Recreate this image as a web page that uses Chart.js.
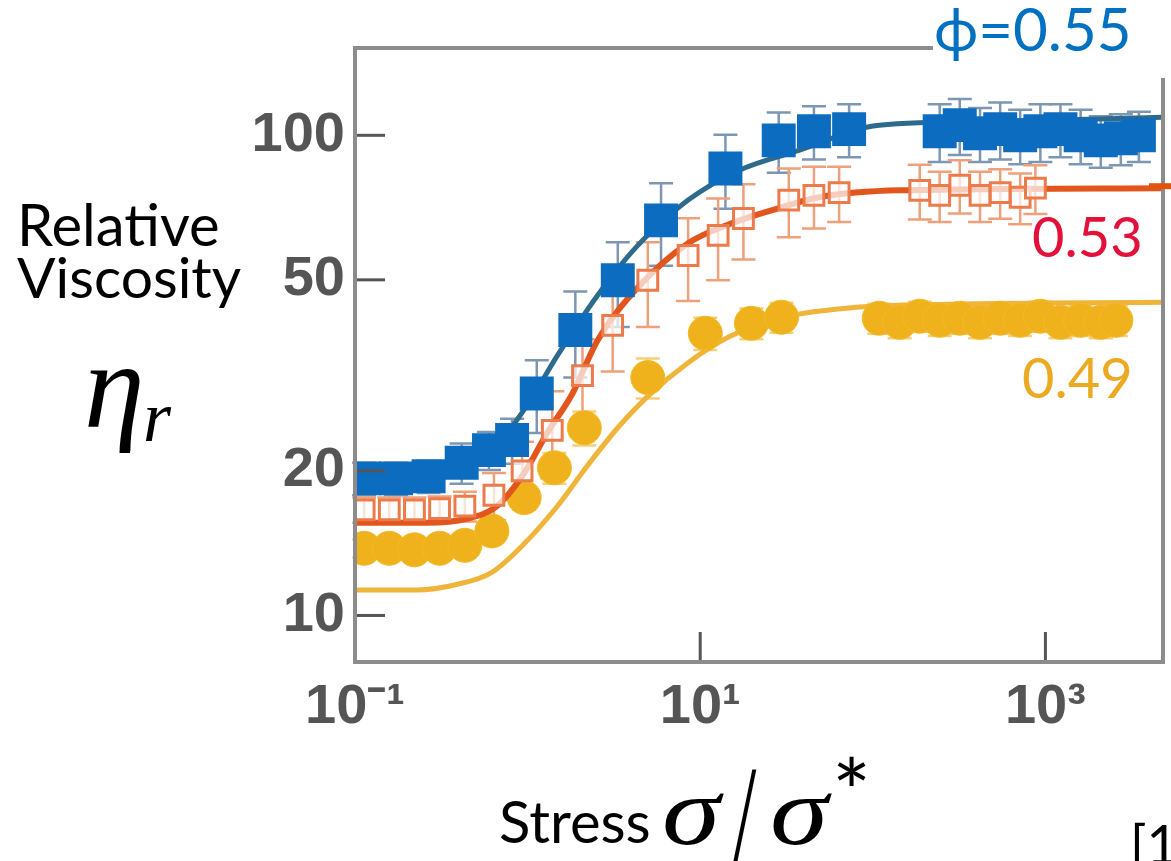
<!DOCTYPE html>
<html>
<head>
<meta charset="utf-8">
<script src="https://cdn.jsdelivr.net/npm/chart.js@4.4.1/dist/chart.umd.min.js"></script>
<style>
  html, body { margin: 0; padding: 0; background: #fff; }
  #wrap { position: relative; width: 1171px; height: 861px; overflow: hidden; }
  #myChart { position: absolute; left: 0; top: 0; }
  .txt { position: absolute; white-space: nowrap; line-height: 1; font-family: Lato, "Open Sans", sans-serif; }
  .math { position: absolute; white-space: nowrap; line-height: 1; font-family: "Liberation Serif", "DejaVu Serif", serif; font-style: italic; transform-origin: left top; }
</style>
</head>
<body>
<div id="wrap">
  <!-- canvas a bit wider than the window: Chart.js keeps ~25px on the right, the overflow is clipped -->
  <canvas id="myChart" width="1187" height="861"></canvas>

  <div class="txt" style="left:17px; top:195px; font-size:58px; color:#000;">Relative</div>
  <div class="txt" style="left:17px; top:248px; font-size:57px; color:#000;">Viscosity</div>
  <div class="math" style="left:84px; top:325px; font-size:122px; color:#000;">η</div>
  <div class="math" style="left:143px; top:381px; font-size:72px; color:#000;">r</div>

  <div class="txt" style="left:499px; top:792px; font-size:58px; color:#000;">Stress</div>
  <div class="math" style="left:662px; top:762px; font-size:98px; transform:scaleX(1.2); color:#000;">σ</div>
  <div class="math" style="left:733px; top:745px; font-size:140px; font-style:normal; transform:scaleX(0.6); color:#000;">/</div>
  <div class="math" style="left:770px; top:762px; font-size:98px; transform:scaleX(1.2); color:#000;">σ</div>
  <div class="txt" style="left:832px; top:744px; font-size:92px; color:#000;">*</div>

  <div class="txt" style="left:1130px; top:817px; font-size:54px; color:#000;">[1</div>

  <div class="txt" style="left:933px; top:0px; width:238px; height:78px; background:#fff;"></div>
  <div class="txt" style="left:934px; top:-2px; font-size:60px; color:#0070C0;">ϕ=0.55</div>
  <div class="txt" style="left:1032px; top:208px; font-size:56px; color:#E3103A;">0.53</div>
  <div class="txt" style="left:1022px; top:349px; font-size:56px; color:#EBAA22;">0.49</div>
</div>

<script>
// tick values / labels
const xTicks = [0.1, 10, 1000];
const xTickLabels = ['10⁻¹', '10¹', '10³'];
const yTicks = [10, 20, 50, 100];
const yTickLabels = ['10', '20', '50', '100'];

// phi = 0.55 (blue squares)
const blueX = [0.113, 0.173, 0.267, 0.415, 0.597, 0.813, 1.13, 1.89, 3.33, 5.93, 14.0, 28.5, 45.6, 72.9, 244, 319, 418, 547, 714, 935, 1222, 1600, 2093, 2735, 3480];
const blueY = [19.3, 19.3, 19.5, 20.8, 22.1, 23.2, 29.0, 39.3, 49.9, 66.5, 85.3, 97.6, 102, 103, 102, 105, 101, 103, 100, 102, 103, 100, 97.6, 98.6, 100];
const blueErr = [1.5, 1.5, 1.5, 2, 2, 2.5, 5, 8, 10, 13, 15, 14, 13, 13, 14, 14, 13, 14, 13, 14, 13, 13, 12, 12, 12];
const blueFitX = [0.1, 0.259, 0.444, 0.664, 0.993, 1.49, 2.54, 4.35, 8.51, 16.7, 37.3, 109, 547, 4810];
const blueFitY = [18.9, 19.3, 20.4, 22.6, 27.4, 34.8, 46.4, 59.0, 73.3, 84.5, 93.0, 105, 107, 109];

// phi = 0.53 (open orange markers)
const orangeX = [0.113, 0.158, 0.221, 0.309, 0.433, 0.638, 0.929, 1.39, 2.08, 3.11, 4.97, 8.51, 12.7, 17.8, 32.6, 45.6, 63.8, 187, 244, 319, 418, 547, 714, 875];
const orangeY = [16.6, 16.6, 16.6, 16.7, 16.9, 17.8, 20.0, 24.3, 31.6, 40.2, 49.9, 56.2, 61.9, 67.1, 73.3, 75.0, 76.0, 76.8, 75.0, 78.7, 75.0, 76.0, 74.3, 77.6];
const orangeErr = [1, 1, 1, 1, 1.2, 2, 3, 5, 6, 8, 10, 11, 12, 12, 12, 11, 10, 10, 9, 10, 9, 9, 9, 9];
const orangeFitX = [0.1, 0.259, 0.444, 0.664, 0.929, 1.30, 1.82, 2.54, 4.35, 8.51, 15.2, 29.6, 48.8, 143, 4810];
const orangeFitY = [15.6, 15.6, 15.9, 16.9, 19.5, 24.0, 29.0, 37.4, 48.2, 59.6, 65.6, 70.8, 74.3, 76.8, 77.6];

// phi = 0.49 (yellow circles)
const yellowX = [0.113, 0.158, 0.221, 0.309, 0.433, 0.621, 0.955, 1.43, 2.13, 4.97, 10.7, 19.8, 29.6, 109, 143, 187, 244, 319, 418, 547, 714, 935, 1222, 1600, 2093, 2560];
const yellowY = [13.8, 13.8, 13.7, 13.8, 14.0, 15.0, 17.6, 20.3, 24.6, 31.3, 38.7, 40.6, 41.8, 41.6, 40.8, 42.0, 41.2, 41.6, 40.8, 41.6, 41.2, 42.0, 40.8, 41.2, 40.8, 41.2];
const yellowErr = [0.6, 0.6, 0.6, 0.6, 0.7, 0.8, 1, 1.5, 2, 3, 3, 3, 3, 3, 3, 3, 3, 3, 3, 3, 3, 3, 3, 3, 3, 3];
const yellowFitX = [0.1, 0.227, 0.388, 0.621, 0.955, 1.49, 2.22, 3.33, 4.97, 8.51, 14.6, 28.5, 72.9, 279, 4810];
const yellowFitY = [11.3, 11.3, 11.6, 12.3, 14.1, 16.9, 20.5, 24.6, 28.6, 33.6, 38.0, 41.6, 43.7, 44.5, 44.9];

const toPts = (xs, ys) => xs.map((x, i) => ({ x: x, y: ys[i] }));

// error bars, inward ticks, frame
const extras = {
  id: 'extras',
  beforeDatasetsDraw(chart) {
    const c = chart.ctx, xs = chart.scales.x, ys = chart.scales.y;
    chart.data.datasets.forEach(ds => {
      if (!ds.errs) return;
      c.save();
      c.strokeStyle = ds.errColor;
      c.lineWidth = 2.5;
      ds.data.forEach((p, i) => {
        const px = xs.getPixelForValue(p.x);
        const top = ys.getPixelForValue(p.y + ds.errs[i]);
        const bot = ys.getPixelForValue(p.y - ds.errs[i]);
        c.beginPath();
        c.moveTo(px, top); c.lineTo(px, bot);
        c.moveTo(px - 12, top); c.lineTo(px + 12, top);
        c.moveTo(px - 12, bot); c.lineTo(px + 12, bot);
        c.stroke();
      });
      c.restore();
    });
  },
  afterDatasetsDraw(chart) {
    const c = chart.ctx, a = chart.chartArea, xs = chart.scales.x, ys = chart.scales.y;
    c.save();
    c.strokeStyle = '#555';
    c.lineWidth = 3;
    yTicks.forEach(v => {
      const py = ys.getPixelForValue(v);
      c.beginPath(); c.moveTo(a.left, py); c.lineTo(a.left + 30, py); c.stroke();
    });
    xTicks.forEach(v => {
      const px = xs.getPixelForValue(v);
      c.beginPath(); c.moveTo(px, a.bottom); c.lineTo(px, a.bottom - 30); c.stroke();
    });
    c.strokeStyle = '#8c8c8c';
    c.lineWidth = 4;
    c.strokeRect(a.left, a.top, a.right - a.left, a.bottom - a.top);
    // little orange dash past the right edge
    const oy = ys.getPixelForValue(orangeFitY[orangeFitY.length - 1]);
    c.strokeStyle = '#E0540E';
    c.lineWidth = 6;
    c.beginPath(); c.moveTo(a.right - 14, oy - 2); c.lineTo(a.right + 12, oy - 2); c.stroke();
    c.restore();
  }
};

const tickFont = { family: '"Liberation Sans", Arial, sans-serif', size: 56, weight: 'bold' };

new Chart(document.getElementById('myChart'), {
  type: 'scatter',
  data: {
    datasets: [
      {
        data: toPts(blueX, blueY), errs: blueErr, errColor: '#7d97b3',
        pointStyle: 'rect', pointRadius: 24, backgroundColor: '#0b6cc0', borderColor: '#0b6cc0', borderWidth: 0,
        showLine: false
      },
      {
        data: toPts(blueFitX, blueFitY), showLine: true, pointRadius: 0,
        borderColor: '#2d6a8c', borderWidth: 5, cubicInterpolationMode: 'monotone'
      },
      {
        data: toPts(orangeX, orangeY), errs: orangeErr, errColor: '#eea07a',
        pointStyle: 'rect', pointRadius: 14, backgroundColor: 'rgba(255,255,255,0.7)', borderColor: '#ec7a4a', borderWidth: 3,
        showLine: false
      },
      {
        data: toPts(orangeFitX, orangeFitY), showLine: true, pointRadius: 0,
        borderColor: '#e2561e', borderWidth: 6, cubicInterpolationMode: 'monotone'
      },
      {
        data: toPts(yellowX, yellowY), errs: yellowErr, errColor: '#f3cf7a',
        pointStyle: 'circle', pointRadius: 17, backgroundColor: '#efb21c', borderColor: '#f2b928', borderWidth: 1,
        showLine: false
      },
      {
        data: toPts(yellowFitX, yellowFitY), showLine: true, pointRadius: 0,
        borderColor: '#efb43a', borderWidth: 5, cubicInterpolationMode: 'monotone'
      }
    ]
  },
  options: {
    responsive: false,
    animation: false,
    layout: { padding: { left: 0, top: 48, right: 9, bottom: 0 } },
    plugins: { legend: { display: false }, tooltip: { enabled: false } },
    scales: {
      x: {
        type: 'logarithmic', min: 0.1, max: 4800,
        afterBuildTicks: s => { s.ticks = xTicks.map(v => ({ value: v })); },
        afterFit: s => { s.height = 199; },
        grid: { display: false, drawTicks: false },
        border: { display: false },
        ticks: {
          autoSkip: false, maxRotation: 0, padding: 12, color: '#555', font: tickFont,
          callback: (v) => xTickLabels[xTicks.indexOf(v)]
        }
      },
      y: {
        type: 'logarithmic', min: 8, max: 152,
        afterBuildTicks: s => { s.ticks = yTicks.map(v => ({ value: v })); },
        afterFit: s => { s.width = 355; },
        grid: { display: false, drawTicks: false },
        border: { display: false },
        ticks: {
          autoSkip: false, padding: 10, color: '#555', font: tickFont,
          callback: (v) => yTickLabels[yTicks.indexOf(v)]
        }
      }
    }
  },
  plugins: [extras]
});
</script>
</body>
</html>
